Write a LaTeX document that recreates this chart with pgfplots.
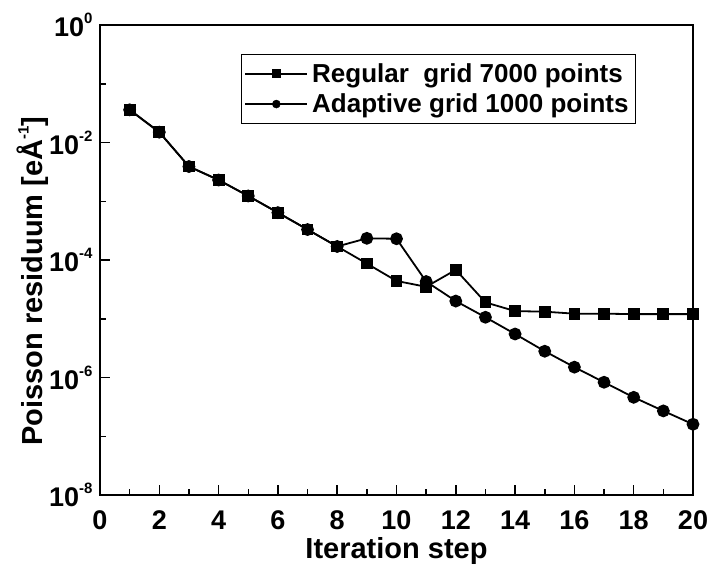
\documentclass[border=0pt]{standalone}
\usepackage{pgfplots}
\pgfplotsset{compat=1.18}
\usepackage{fontspec}
\setmainfont{Liberation Sans}
% small raised exponent, as in 10^-4
\newcommand{\sexp}[1]{\raisebox{0.48em}{\fontsize{15}{15}\selectfont #1}}
\begin{document}
\begin{tikzpicture}
\begin{axis}[
  scale only axis,
  width=593pt, height=470pt,
  xmin=0, xmax=20,
  ymode=log, ymin=1e-8, ymax=1,
  axis line style={line width=1.8pt},
  every tick/.style={line width=1.5pt, black},
  tick align=inside,
  xtick pos=bottom, ytick pos=left,
  xtick={0,2,...,20},
  minor xtick={1,3,...,19},
  ytick={1e-8,1e-6,1e-4,1e-2,1},
  yticklabels={10\sexp{-8},10\sexp{-6},10\sexp{-4},10\sexp{-2},10\sexp{0}},
  minor ytick={1e-7,1e-5,1e-3,1e-1},
  major tick length=10pt, minor tick length=6pt,
  /pgf/number format/assume math mode=true,
  ticklabel style={font=\fontsize{27}{30}\selectfont\bfseries},
  xticklabel style={yshift=-12pt},
  yticklabel style={xshift=-4pt},
  xlabel={Iteration step},
  ylabel={Poisson residuum [eÅ\sexp{-1}]},
  label style={font=\fontsize{29}{32}\selectfont\bfseries},
  xlabel style={at={(axis description cs:0.5,0)}, anchor=north, yshift=-39pt},
  ylabel style={at={([xshift=-48pt]axis description cs:0,0.455)}, anchor=south},
  legend style={at={(0.238,0.938)}, anchor=north west, draw=black, line width=0.8pt,
    font=\fontsize{26}{29}\selectfont\bfseries, inner xsep=3pt, inner ysep=7pt,
    row sep=6pt, nodes={inner xsep=4pt, inner ysep=2pt}},
  legend cell align=left,
  legend image code/.code={
    \draw[line width=1.6pt] (0pt,0pt) -- (62pt,0pt);
    \draw[#1, line width=0.5pt, mark size=4pt] plot coordinates {(31pt,0pt)};
  },
]
\addplot[black, line width=1.8pt, mark=square*, mark size=5pt, mark options={solid}]
coordinates {
 (1,3.6e-2) (2,1.5e-2) (3,3.9e-3) (4,2.3e-3) (5,1.23e-3) (6,6.4e-4) (7,3.3e-4)
 (8,1.7e-4) (9,8.7e-5) (10,4.4e-5) (11,3.5e-5) (12,6.8e-5) (13,1.9e-5) (14,1.35e-5)
 (15,1.32e-5) (16,1.22e-5) (17,1.22e-5) (18,1.2e-5) (19,1.2e-5) (20,1.2e-5)
};
\addlegendentry{Regular\ \ grid 7000 points\hspace{16pt}}
\addplot[black, line width=1.8pt, mark=*, mark size=5.5pt, mark options={solid}]
coordinates {
 (1,3.6e-2) (2,1.5e-2) (3,3.9e-3) (4,2.3e-3) (5,1.23e-3) (6,6.4e-4) (7,3.3e-4)
 (8,1.7e-4) (9,2.34e-4) (10,2.3e-4) (11,4.3e-5) (12,2.0e-5) (13,1.06e-5) (14,5.5e-6)
 (15,2.8e-6) (16,1.5e-6) (17,8.3e-7) (18,4.6e-7) (19,2.7e-7) (20,1.6e-7)
};
\addlegendentry{Adaptive grid 1000 points\hspace{16pt}}
\end{axis}
% page frame: fixed margins around the plot area
\pgfresetboundingbox
\path ([shift={(-100pt,-73pt)}]current axis.south west)
  rectangle ([shift={(16pt,25pt)}]current axis.north east);
\end{tikzpicture}
\end{document}
